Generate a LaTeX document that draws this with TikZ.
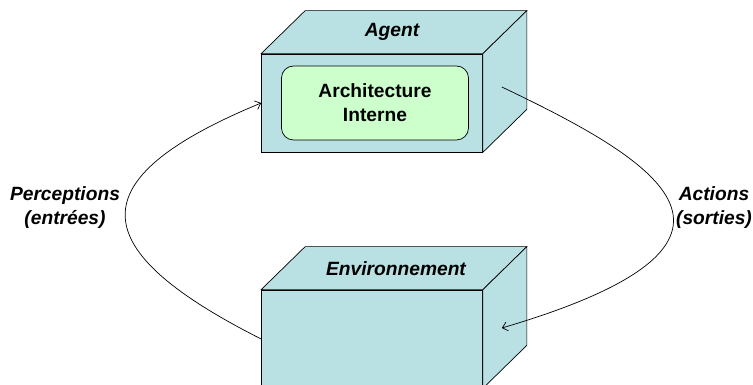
\documentclass[tikz,border=0pt]{standalone}
\usepackage{fontspec}
\setmainfont{Liberation Sans}
\usetikzlibrary{positioning,calc,arrows.meta}

\definecolor{boite}{RGB}{185,224,226}
\definecolor{vertclair}{RGB}{204,255,204}

\begin{document}
\begin{tikzpicture}[x=1pt,y=1pt,>={Straight Barb[length=5pt,width=9pt]},line width=0.7pt,
  face/.style={draw,fill=boite},
  cube/.style={face,minimum width=221pt,minimum height=98pt,inner sep=0pt},
  titre/.style={font=\fontsize{19.2}{24}\selectfont\bfseries\itshape,align=center},
  interne/.style={draw,fill=vertclair,rounded corners=12pt,minimum width=187pt,
    minimum height=74pt,align=center,font=\fontsize{19.2}{24}\selectfont\bfseries}]
  \useasboundingbox (0,0) rectangle (753,385);

  % Boites (face avant)
  \node[cube] (agent) at (372,282) {};
  \node[cube] (env)   at (372,46)  {};

  % Faces du dessus et de cote
  \draw[face] (agent.north west) -- ++(44,43) -- ($(agent.north east)+(44,43)$) -- (agent.north east) -- cycle;
  \draw[face] (agent.north east) -- ++(44,43) -- ($(agent.south east)+(44,43)$) -- (agent.south east) -- cycle;
  \draw[face] (env.north west) -- ++(44,43) -- ($(env.north east)+(44,43)$) -- (env.north east) -- cycle;
  \draw[face] (env.north east) -- ++(44,43) -- ($(env.south east)+(44,43)$) -- (env.south east) -- cycle;

  % Titres
  \node[titre] (tagent) at ($(agent.north)+(20,21.5)$) {Agent};
  \node[titre] (tenv)   at ($(env.north)+(24,21.5)$)   {Environnement};
  \node[interne] (archi) at ($(agent.center)+(3,0)$) {Architecture\\Interne};

  % Etiquettes des fleches
  \node[titre] (perc) at (65,177)  {Perceptions\\(entrées)};
  \node[titre] (act)  at (714,177) {Actions\\(sorties)};

  % Extremites sur les faces de cote
  \coordinate (agentcote) at ($(agent.east)+(19,16)$);
  \coordinate (envcote)   at ($(env.east)+(19,11)$);

  % Perceptions : environnement -> agent
  \draw[->] (env.west) .. controls (85,135) and (75,205) .. (agent.west);
  % Actions : agent -> environnement
  \draw[->] (agentcote) .. controls (657,224) and (794,143) .. (envcote);
\end{tikzpicture}
\end{document}
